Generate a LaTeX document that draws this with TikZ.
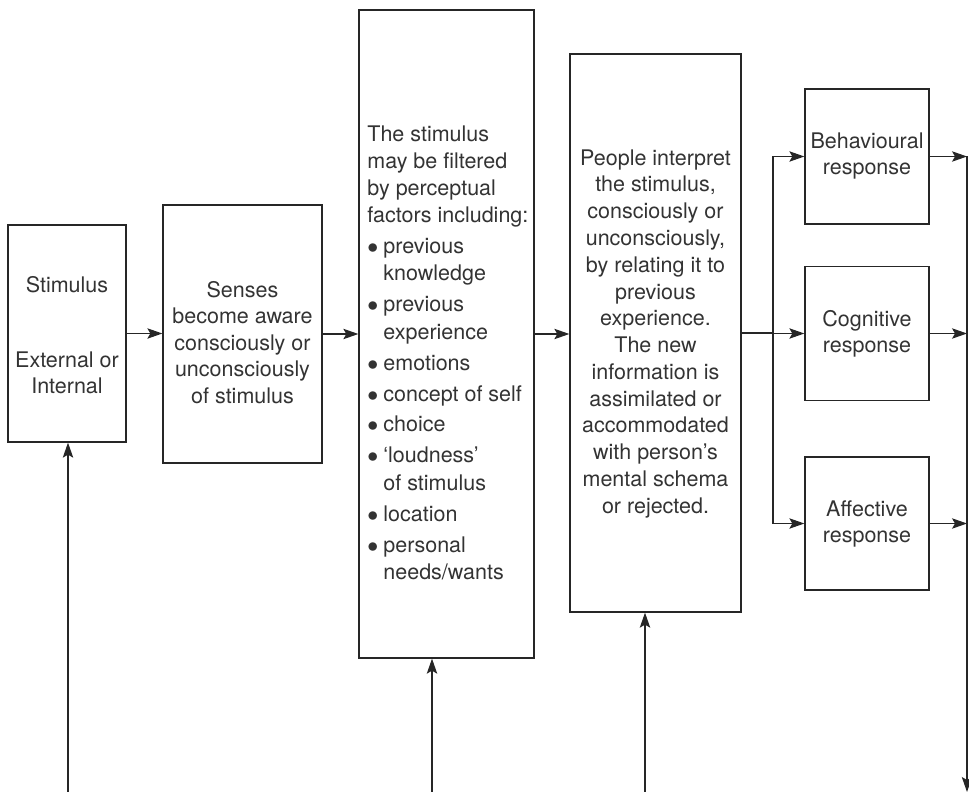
\documentclass[tikz,border=0pt]{standalone}
\usepackage{fontspec}
\setmainfont{TeX Gyre Heros}
\usetikzlibrary{arrows.meta}
\newcommand\bulit{\makebox[8pt][l]{$\bullet$}}
\newcommand\bulcont{\hspace*{8pt}}
\begin{document}
\begin{tikzpicture}[x=0.5pt,y=-0.5pt,
  box/.style={draw=black!85, line width=0.65pt, rectangle, inner sep=0pt},
  txt/.style={inner sep=0pt, anchor=base, text=black!80,
              font=\fontsize{10.75pt}{13.4pt}\selectfont},
  link/.style={draw=black!85, line width=0.55pt},
  tip/.style={link, -{Stealth[length=7.5pt,width=5.2pt,inset=1.5pt]}}
]
\useasboundingbox (0,0) rectangle (969,792);

% main chain of boxes
\node[box, minimum width=59pt,   minimum height=108.5pt] (stim)   at (67,333.5)  {};
\node[box, minimum width=79.5pt, minimum height=129pt]   (senses) at (242.5,334) {};
\node[box, minimum width=87.5pt, minimum height=324pt]   (filt)   at (446.5,334) {};
\node[box, minimum width=85.5pt, minimum height=279pt]   (interp) at (655.5,333) {};

% response boxes
\node[box, minimum width=62pt, minimum height=67.5pt] (beh) at (867,156.5) {};
\node[box, minimum width=62pt, minimum height=67pt]   (cog) at (867,333.5) {};
\node[box, minimum width=62pt, minimum height=66.5pt] (aff) at (867,523.5) {};

% box texts
\node[txt] (stimtxt) at (67,292) {\begin{tabular}[t]{@{}c@{}}Stimulus\\[24.1pt]External or\\Internal\end{tabular}};
\node[txt, font=\fontsize{10.75pt}{13.25pt}\selectfont] (sensestxt) at (242.5,297)
  {\begin{tabular}[t]{@{}c@{}}Senses\\become aware\\consciously or\\unconsciously\\of stimulus\end{tabular}};
\node[txt, anchor=base west, font=\fontsize{10.75pt}{13.6pt}\selectfont] (filttxt) at (367,141)
  {\begin{tabular}[t]{@{}l@{}}The stimulus\\may be filtered\\by perceptual\\factors including:\\[1.9pt]
   \bulit previous\\\bulcont knowledge\\[1.9pt]
   \bulit previous\\\bulcont experience\\[1.9pt]
   \bulit emotions\\[1.9pt]
   \bulit concept of self\\[1.9pt]
   \bulit choice\\[1.9pt]
   \bulit ‘loudness’\\\bulcont of stimulus\\[1.9pt]
   \bulit location\\[1.9pt]
   \bulit personal\\\bulcont needs/wants\end{tabular}};
\node[txt] (interptxt) at (655.5,165)
  {\begin{tabular}[t]{@{}c@{}}People interpret\\the stimulus,\\consciously or\\unconsciously,\\by relating it to\\previous\\experience.\\The new\\information is\\assimilated or\\accommodated\\with person’s\\mental schema\\or rejected.\end{tabular}};
\node[txt, font=\fontsize{10.75pt}{13pt}\selectfont] (behtxt) at (867,148.5)
  {\begin{tabular}[t]{@{}c@{}}Behavioural\\response\end{tabular}};
\node[txt, font=\fontsize{10.75pt}{13pt}\selectfont] (cogtxt) at (867,326)
  {\begin{tabular}[t]{@{}c@{}}Cognitive\\response\end{tabular}};
\node[txt, font=\fontsize{10.75pt}{13pt}\selectfont] (afftxt) at (867,516.5)
  {\begin{tabular}[t]{@{}c@{}}Affective\\response\end{tabular}};

% forward arrows
\draw[tip] (stim.east) -- (stim.east -| senses.west);
\draw[tip] (senses.east) -- (senses.east -| filt.west);
\draw[tip] (filt.east) -- (filt.east -| interp.west);

% split to the three responses
\coordinate (split) at (773,333);
\draw[link] (interp.east) -- (split);
\draw[link] (split |- beh.west) -- (split |- aff.west);
\draw[tip] (split |- beh.west) -- (beh.west);
\draw[tip] (split |- cog.west) -- (cog.west);
\draw[tip] (split |- aff.west) -- (aff.west);

% collecting line on the right
\coordinate (rbot) at (967,792);
\draw[tip] (beh.east) -- (beh.east -| rbot);
\draw[tip] (cog.east) -- (cog.east -| rbot);
\draw[tip] (aff.east) -- (aff.east -| rbot);
\draw[tip] (beh.east -| rbot) -- (rbot);

% inputs from below
\coordinate (in1) at (68,792);
\coordinate (in2) at (432,792);
\coordinate (in3) at (645,792);
\draw[tip] (in1) -- (in1 |- stim.south);
\draw[tip] (in2) -- (in2 |- filt.south);
\draw[tip] (in3) -- (in3 |- interp.south);
\end{tikzpicture}
\end{document}
